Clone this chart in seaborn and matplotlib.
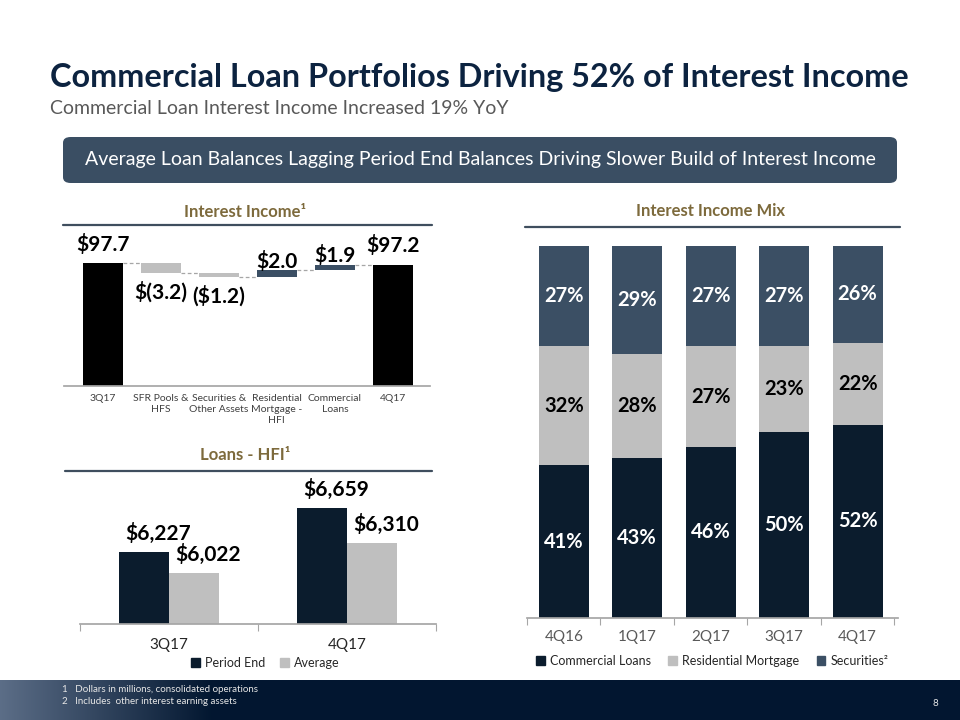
import numpy as np
import pandas as pd
import matplotlib.pyplot as plt
import seaborn as sns
from matplotlib.patches import FancyBboxPatch, Patch
from matplotlib.lines import Line2D

# data
wf_labels = ['3Q17', 'SFR Pools &\nHFS', 'Securities &\nOther Assets',
             'Residential\nMortgage -\nHFI', 'Commercial\nLoans', '4Q17']
wf_values = [97.7, -3.2, -1.2, 2.0, 1.9, 97.2]
wf_text = ['$97.7', '$(3.2)', '($1.2)', '$2.0', '$1.9', '$97.2']

loan_quarters = ['3Q17', '4Q17']
loan_period_end = [6227, 6659]
loan_average = [6022, 6310]

mix_quarters = ['4Q16', '1Q17', '2Q17', '3Q17', '4Q17']
mix_commercial = [41, 43, 46, 50, 52]
mix_residential = [32, 28, 27, 23, 22]
mix_securities = [27, 29, 27, 27, 26]

# colours
navy = '#0B1C2D'
slate = '#3B4F64'
gray = '#BFBFBF'
gold = '#7D6A3C'
rule = '#3F4E5E'

sns.set_theme(style='white')
plt.rcParams['font.family'] = ['Lato', 'DejaVu Sans']

fig = plt.figure(figsize=(9.6, 7.2), dpi=100)

def fx(x):
    return x / 960

def fy(y):
    return 1 - y / 720

# header
fig.text(fx(50), fy(78), 'Commercial Loan Portfolios Driving 52% of Interest Income',
         fontsize=23.3, fontweight='bold', color='#0C2340', va='center', ha='left')
fig.text(fx(50), fy(108), 'Commercial Loan Interest Income Increased 19% YoY',
         fontsize=14, color='#595959', va='center', ha='left')

banner = FancyBboxPatch((fx(63), fy(183)), fx(897 - 63), (183 - 137) / 720,
                        boxstyle='round,pad=0,rounding_size=0.008',
                        transform=fig.transFigure, facecolor='#3A4E63',
                        edgecolor='none')
fig.patches.append(banner)
fig.text(0.5, fy(160), 'Average Loan Balances Lagging Period End Balances Driving Slower Build of Interest Income',
         fontsize=14, color='white', ha='center', va='center')

# section headers with rules
for txt, cx, cy, x0, x1, ly in [('Interest Income¹', 245, 212, 63, 432, 225),
                                ('Loans - HFI¹', 245, 455, 65, 432, 471),
                                ('Interest Income Mix', 711, 211, 525, 900, 227)]:
    fig.text(fx(cx), fy(cy), txt, fontsize=12, fontweight='bold', color=gold,
             ha='center', va='center')
    fig.add_artist(Line2D([fx(x0), fx(x1)], [fy(ly), fy(ly)], color=rule, lw=1.6,
                          transform=fig.transFigure))

# ---- waterfall ----
ax1 = fig.add_axes([fx(64), fy(386), (430 - 64) / 960, (386 - 232) / 720])
pos = np.arange(len(wf_values))
w = 0.69
bottoms, heights, colors, levels = [], [], [], []
running = 0
for i, v in enumerate(wf_values):
    if i == 0 or i == len(wf_values) - 1:
        bottoms.append(0)
        heights.append(v)
        colors.append('black')
        running = v
    else:
        bottoms.append(min(running, running + v))
        heights.append(abs(v))
        colors.append(gray if v < 0 else slate)
        running += v
    levels.append(running)
ax1.bar(pos, heights, bottom=bottoms, width=w, color=colors, linewidth=0)
for i in range(len(pos) - 1):
    ax1.plot([pos[i] + w / 2, pos[i + 1] - w / 2], [levels[i], levels[i]],
             color='#A6A6A6', lw=0.9, ls=(0, (3, 2)))
for i, v in enumerate(wf_values):
    top = bottoms[i] + heights[i]
    if i == 0 or i == len(wf_values) - 1:
        xy, dy, va = (pos[i], top), 6, 'bottom'
    elif v < 0:
        xy, dy, va = (pos[i], bottoms[i]), -6, 'top'
    else:
        xy, dy, va = (pos[i], top), -1, 'bottom'
    ax1.annotate(wf_text[i], xy, xytext=(0, dy), textcoords='offset points',
                 ha='center', va=va, fontsize=15, fontweight='bold', color='black',
                 annotation_clip=False)
ax1.set_xlim(-0.67, 5.64)
ax1.set_ylim(58, 107.7)
ax1.set_xticks(pos)
ax1.set_xticklabels(wf_labels, fontsize=7.5, color='#404040', linespacing=1.25)
ax1.set_yticks([])
ax1.tick_params(axis='x', length=0, pad=6)
for s in ['top', 'right', 'left']:
    ax1.spines[s].set_visible(False)
ax1.spines['bottom'].set_color('#A6A6A6')
ax1.patch.set_alpha(0)

# ---- loans ----
df_loans = pd.DataFrame({
    'quarter': loan_quarters * 2,
    'value': loan_period_end + loan_average,
    'series': ['Period End'] * 2 + ['Average'] * 2,
})
ax2 = fig.add_axes([fx(80), fy(624), (436 - 80) / 960, (624 - 480) / 720])
sns.barplot(data=df_loans, x='quarter', y='value', hue='series',
            palette={'Period End': navy, 'Average': gray}, width=0.56, gap=0,
            saturation=1, linewidth=0, legend=False, ax=ax2)
for cont, vals in zip(ax2.containers, [loan_period_end, loan_average]):
    for bar, v in zip(cont, vals):
        ax2.annotate(f'${v:,}', (bar.get_x() + bar.get_width() / 2, bar.get_height()),
                     xytext=(10, 6), textcoords='offset points', ha='center',
                     va='bottom', fontsize=15, fontweight='bold', color='black',
                     annotation_clip=False)
ax2.set_xlim(-0.5, 1.5)
ax2.set_ylim(5520, 6932)
ax2.set_xlabel('')
ax2.set_ylabel('')
ax2.set_yticks([])
ax2.set_xticks([-0.5, 0.5, 1.5], minor=True)
ax2.tick_params(axis='x', which='major', length=0, pad=10, labelsize=11, labelcolor='#262626')
ax2.tick_params(axis='x', which='minor', length=5, color='#A6A6A6', width=0.8, bottom=True)
for s in ['top', 'right', 'left']:
    ax2.spines[s].set_visible(False)
ax2.spines['bottom'].set_color('#A6A6A6')
ax2.patch.set_alpha(0)
fig.legend(handles=[Patch(color=navy, label='Period End'), Patch(color=gray, label='Average')],
           loc='center', bbox_to_anchor=(fx(265), fy(663)), ncol=2, frameon=False,
           fontsize=9, handlelength=0.7, handleheight=0.7, handletextpad=0.4,
           columnspacing=1.2)

# ---- interest income mix ----
ax3 = fig.add_axes([fx(527), fy(618), (898 - 527) / 960, (618 - 246) / 720])
tot = np.array(mix_commercial) + np.array(mix_residential) + np.array(mix_securities)
lower2 = np.array(mix_commercial) + np.array(mix_residential)
sns.barplot(x=mix_quarters, y=tot, color=slate, width=0.68, saturation=1, linewidth=0, ax=ax3)
sns.barplot(x=mix_quarters, y=lower2, color=gray, width=0.68, saturation=1, linewidth=0, ax=ax3)
sns.barplot(x=mix_quarters, y=mix_commercial, color=navy, width=0.68, saturation=1, linewidth=0, ax=ax3)
for i in range(len(mix_quarters)):
    c, r, s = mix_commercial[i], mix_residential[i], mix_securities[i]
    ax3.text(i, c / 2, f'{c}%', ha='center', va='center', color='white',
             fontsize=14.5, fontweight='bold')
    ax3.text(i, c + r / 2, f'{r}%', ha='center', va='center', color='black',
             fontsize=14.5, fontweight='bold')
    ax3.text(i, c + r + s / 2, f'{s}%', ha='center', va='center', color='white',
             fontsize=14.5, fontweight='bold')
ax3.set_xlim(-0.49, 4.55)
ax3.set_ylim(0, 100)
ax3.set_yticks([])
ax3.set_xticks(np.arange(-0.5, 5, 1), minor=True)
ax3.tick_params(axis='x', which='major', length=0, pad=9, labelsize=11, labelcolor='#595959')
ax3.tick_params(axis='x', which='minor', length=5, color='#A6A6A6', width=0.8, bottom=True)
for s in ['top', 'right', 'left']:
    ax3.spines[s].set_visible(False)
ax3.spines['bottom'].set_color('#A6A6A6')
ax3.patch.set_alpha(0)
fig.legend(handles=[Patch(color=navy, label='Commercial Loans'),
                    Patch(color=gray, label='Residential Mortgage'),
                    Patch(color=slate, label='Securities²')],
           loc='center', bbox_to_anchor=(fx(712), fy(661)), ncol=3, frameon=False,
           fontsize=9, handlelength=0.7, handleheight=0.7, handletextpad=0.4,
           columnspacing=1.4)

# ---- footer band ----
axf = fig.add_axes([0, 0, 1, 40 / 720])
grad = np.linspace(0, 1, 960)
left_c = np.array([0.36, 0.43, 0.53])
right_c = np.array([0.01, 0.09, 0.19])
t = np.clip(grad / 0.22, 0, 1)[:, None]
row = left_c * (1 - t) + right_c * t
axf.imshow(row[None, :, :], aspect='auto', extent=[0, 1, 0, 1])
axf.axis('off')
fig.text(fx(62), fy(689), '1   Dollars in millions, consolidated operations',
         fontsize=7, color='#E6E6E6', va='center')
fig.text(fx(62), fy(702), '2   Includes  other interest earning assets',
         fontsize=7, color='#E6E6E6', va='center')
fig.text(fx(935), fy(703), '8', fontsize=7, color='#E6E6E6', va='center', ha='center')

fig.savefig('out.png', dpi=100)
